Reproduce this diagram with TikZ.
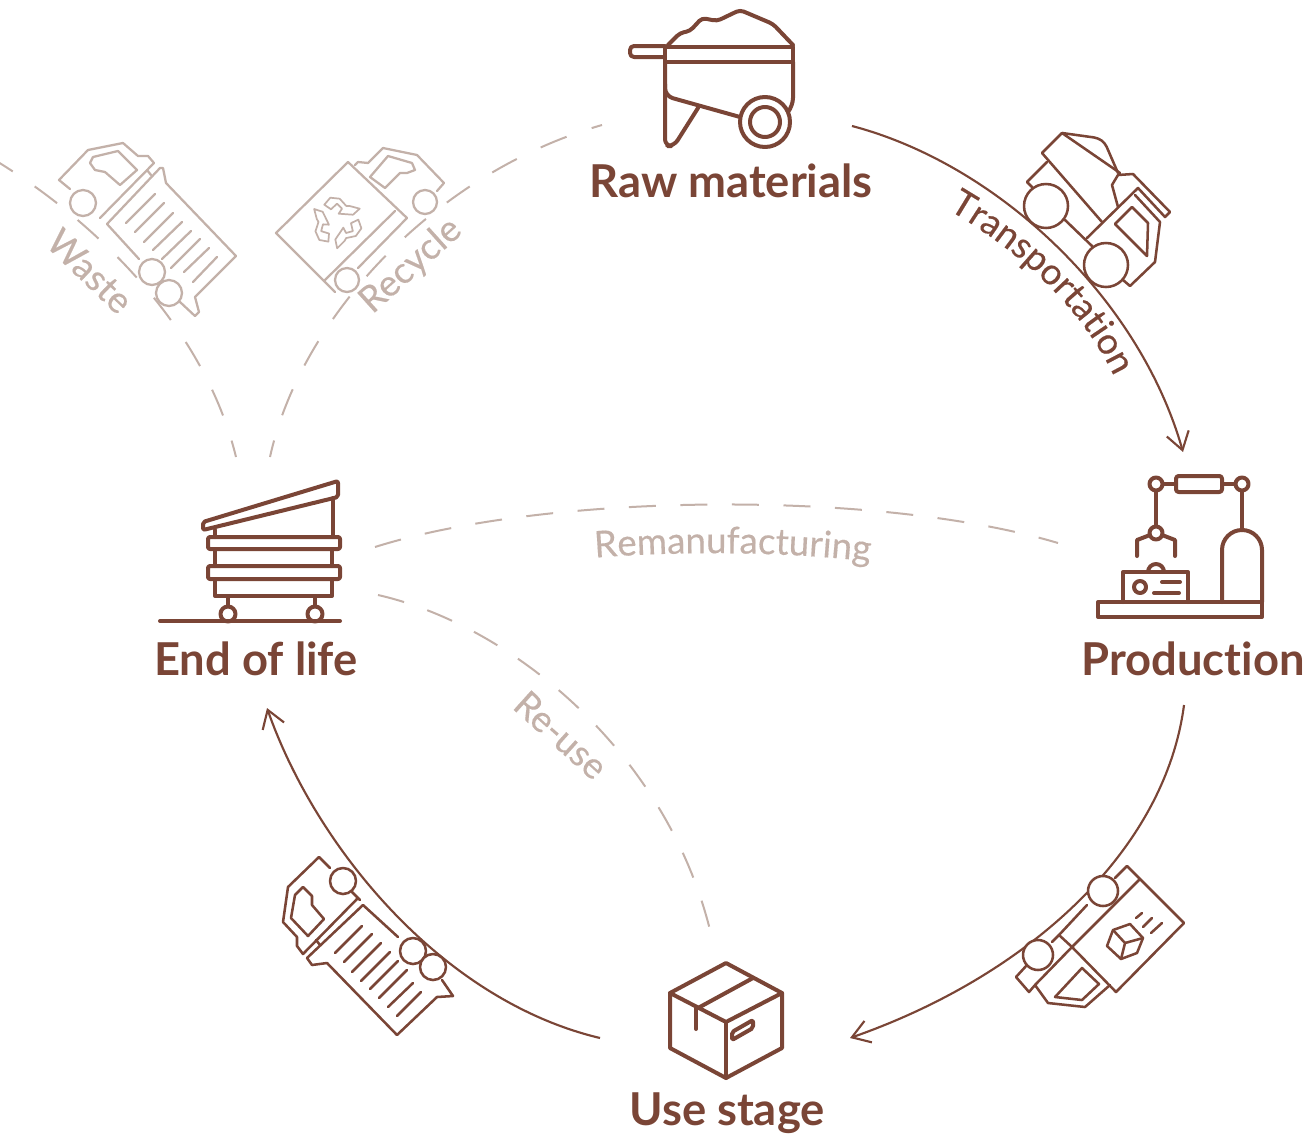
\documentclass[tikz,border=0pt]{standalone}
\usepackage{fontspec}
\setmainfont[Ligatures=NoCommon]{Lato}
\newfontfamily\palefont[Ligatures=NoCommon,FakeBold=0.3]{Lato}
\usetikzlibrary{arrows.meta,decorations.text}
\definecolor{brownc}{HTML}{7A4536}
\definecolor{lightc}{HTML}{C3B1A9}
\tikzset{
  x=0.75pt,y=-0.75pt,
  icon/.style={draw=brownc,line width=3pt,line join=round,line cap=round},
  thin icon/.style={draw=brownc,line width=1.9pt,line join=round,line cap=round},
  pale icon/.style={draw=lightc,line width=1.7pt,line join=round,line cap=round},
  flow/.style={draw=brownc,line width=1.6pt,-{Straight Barb[length=13pt,width=17pt,line width=1.6pt]}},
  dashflow/.style={draw=lightc,line width=1.5pt,dash pattern=on 21pt off 19.9pt,dash phase=8.25pt},
  dashlong/.style={draw=lightc,line width=1.5pt,dash pattern=on 20.25pt off 18.4pt},
  stage/.style={text=brownc,font=\fontsize{34}{40}\selectfont\bfseries,inner sep=0pt,anchor=center},
  palelabel/.style={text=lightc,font=\fontsize{27.5}{32}\selectfont\palefont,inner sep=0pt,anchor=center},
}
\begin{document}
\begin{tikzpicture}
\useasboundingbox (0,0) rectangle (1309,1135);
% connector ends
\coordinate (rawOut) at (852,126);
\coordinate (prodIn) at (1183,452);
\coordinate (prodOut) at (1184,705);
\coordinate (useIn) at (850,1038);
\coordinate (useOut) at (600,1038);
\coordinate (eolIn) at (267,708);
\coordinate (eolA) at (236,457);
\coordinate (wasteEnd) at (-2,162);
\coordinate (eolB) at (270,457);
\coordinate (rawIn) at (602,125);
\coordinate (eolC) at (375,547);
\coordinate (prodD) at (1058,543);
\coordinate (eolD) at (378,595);
\coordinate (useD) at (710,930);
% dashed
\draw[dashflow] (eolA) .. controls (205,330) and (100,225) .. (wasteEnd);
\draw[dashflow] (eolB) .. controls (300,320) and (432,174) .. (rawIn);
\draw[dashlong] (eolC) .. controls (550,492) and (880,490) .. (prodD);
\draw[dashlong] (eolD) .. controls (510,625) and (665,750) .. (useD);
% solid
\draw[flow] (rawOut) .. controls (1000,165) and (1140,300) .. (prodIn);
\draw[flow] (prodOut) .. controls (1165,850) and (1030,975) .. (useIn);
\draw[flow] (useOut) .. controls (440,1000) and (315,845) .. (eolIn);

% wheelbarrow
\begin{scope}[icon]
\draw[rounded corners=3pt] (668,45)--(680,33)--(690,31)--(702,18)--(717,21)--(740,10)--(773,24)--(793,45);
\draw (665,47) rectangle (793,62);
\draw[rounded corners=3pt] (665,46)--(630,46)--(630,57)--(665,57);
\draw[rounded corners=5pt] (665,62)--(665,146)--(674,146)--(698,108);
\draw[rounded corners=6pt] (665,84)--(665,96)--(740,117);
\draw[rounded corners=6pt] (793,62)--(793,106)--(788,112);
\draw (765,122) circle (25);
\draw (765,122) circle (15);
\end{scope}
\node[stage] (raw) at (731,181) {Raw materials};

% dump truck
\begin{scope}[thin icon]
\draw[fill=white] (1046,206) circle (22);
\draw[fill=white] (1106,265) circle (22);
\draw (1042,153)--(1062,133)--(1120,173);
\draw (1042,153)--(1102,222);
\draw[rounded corners=3pt] (1062,133)--(1098,138)--(1105,143)--(1118,173);
\draw (1047,162)--(1027,182)--(1032,187);
\draw (1065,220)--(1092,246);
\draw (1118,175)--(1133,174)--(1170,212)--(1165,217)--(1138,188)--(1087,238);
\draw (1118,175)--(1112,185)--(1118,207);
\draw (1135,195)--(1160,222)--(1155,262)--(1130,286)--(1123,280);
\draw (1115,224)--(1132,207)--(1148,223)--(1147,256)--cycle;
\end{scope}
\path[decorate,decoration={text along path,text align=center,text format delimiters={|}{|},
  text={|\fontsize{27.5}{32}\selectfont\palefont\color{brownc}|Transportation}}]
  (940,205) .. controls (1020,250) and (1085,310) .. (1118,385);

% production
\begin{scope}[icon]
\draw[rounded corners=2pt] (1176,476) rectangle (1222,492);
\draw (1163,484)--(1176,484) (1222,484)--(1235,484);
\draw (1156,484) circle (6.5);
\draw (1242,484) circle (6.5);
\draw (1156,491)--(1156,526);
\draw (1242,491)--(1242,530);
\draw (1156,533) circle (6.5);
\draw (1150,535)--(1137,540)--(1137,556);
\draw (1162,535)--(1175,540)--(1175,556);
\draw (1148,572) arc (180:360:8);
\draw (1123,602)--(1123,572)--(1188,572)--(1188,602);
\draw (1140,587) circle (6);
\draw (1162,582)--(1180,582) (1154,593)--(1179,593);
\draw (1098,602) rectangle (1262,617);
\draw (1222,602)--(1222,550) arc (180:360:20) --(1262,602);
\end{scope}
\node[stage] (prod) at (1193,659) {Production};

% delivery truck
\begin{scope}[thin icon]
\draw[fill=white] (1103,891) circle (15);
\draw[fill=white] (1038,955) circle (15);
\draw (1140,879)--(1184,923)--(1116,992)--(1072,947)--cycle;
\draw (1115,878)--(1127,866)--(1140,879);
\draw (1087,905)--(1059,935)--(1072,947);
\draw (1052,942)--(1059,935);
\draw (1072,947)--(1035,985)--(1048,1003)--(1085,1007)--(1110,985);
\draw (1027,965)--(1016,977)--(1029,992)--(1035,985);
\draw (1055,997)--(1082,968)--(1099,984)--(1082,1000)--cycle;
\draw (1113,930)--(1130,924)--(1143,938)--(1137,953)--(1121,959)--(1107,946)--cycle;
\draw (1113,930)--(1125,943)--(1143,938) (1125,943)--(1121,959);
\draw (1136,918)--(1142,913) (1143,927)--(1152,918) (1151,933)--(1162,923);
\end{scope}

% box
\begin{scope}[icon]
\draw (726,963)--(782,993)--(782,1048)--(726,1078)--(670,1048)--(670,993)--cycle;
\draw (670,993)--(726,1022)--(782,993);
\draw (726,1022)--(726,1078);
\draw (698,1008)--(753,978);
\draw (696,1008)--(696,1029);
\draw[rounded corners=1.5pt] (732,1032)--(753,1020)--(753,1028)--(732,1040)--cycle;
\end{scope}
\node[stage] (use) at (727,1113) {Use stage};

% rubbish truck (brown)
\begin{scope}[thin icon]
\draw[fill=white] (343,881) circle (13);
\draw[fill=white] (413,951) circle (13);
\draw[fill=white] (433,967) circle (13);
\draw (330,868)--(319,857)--(288,887)--(283,922)--(297,937)--(297,946)--(303,954)--(357,899);
\draw (316,940)--(320,945);
\draw (352,892)--(360,900);
\draw (363,905)--(307,958)--(312,965)--(327,963)--(397,1035)--(437,997)--(453,996)--(442,980);
\draw (363,905)--(398,937);
\draw (303,887)--(312,896)--(312,905)--(324,919)--(308,936)--(291,918)--(295,895)--cycle;
\draw (335,953)--(362,926) (344,962)--(372,934) (352,972)--(381,943) (361,981)--(390,952)
      (370,989)--(398,961) (379,998)--(407,970) (388,1007)--(413,983) (397,1016)--(421,992);
\end{scope}

% end of life
\begin{scope}[icon]
\draw (160,621)--(340,621);
\draw (228,614) circle (7.5);
\draw (315,614) circle (7.5);
\draw (228,597)--(228,606) (315,597)--(315,606);
\draw (215,579)--(215,596)--(332,596)--(332,579);
\draw[rounded corners=1.5pt] (208,566) rectangle (340,579);
\draw (215,549)--(215,566) (332,549)--(332,566);
\draw[rounded corners=1.5pt] (208,537) rectangle (340,549);
\draw[rounded corners=1.5pt] (203,522)--(338,481)--(338,497)--(203,530)--cycle;
\draw (215,530)--(215,537) (333,498)--(333,537);
\end{scope}
\node[stage] (eol) at (256,659) {End of life};

% waste truck
\begin{scope}[pale icon]
\draw[fill=white] (83,203) circle (13);
\draw[fill=white] (152,272) circle (13);
\draw[fill=white] (169,293) circle (13);
\draw (70,189)--(59,180)--(88,150)--(123,143)--(138,156)--(148,156)--(154,163)--(100,218);
\draw (147,170)--(151,175);
\draw (107,224)--(160,168)--(163,168)--(166,183)--(236,256)--(195,297)--(199,312)--(195,316)--(180,302);
\draw (107,224)--(139,259);
\draw (90,163)--(93,157)--(118,151)--(137,170)--(120,185)--(105,172)--(95,170)--cycle;
\draw (126,223)--(155,194) (135,232)--(164,203) (144,242)--(173,213) (153,250)--(182,222)
      (162,259)--(191,231) (171,268)--(200,239) (184,272)--(209,248) (193,282)--(217,257);
\end{scope}
\node[palelabel,rotate=-44] (waste) at (90,271) {Waste};

% recycle truck
\begin{scope}[pale icon]
\draw[fill=white] (347,280) circle (12);
\draw[fill=white] (425,202) circle (12);
\draw (348,162)--(276,233)--(335,292)--(327,284);
\draw (348,162)--(407,218);
\draw (325,280)--(395,211);
\draw (358,268)--(407,218);
\draw (355,165)--(358,162)--(368,163)--(383,148)--(417,155)--(444,183)--(437,191);
\draw (370,177)--(388,156)--(412,163)--(415,170)--(407,173)--(400,173)--(385,188)--cycle;
\foreach \a in {0,120,240}{
  \draw[line width=1.3pt,shift={(337,222)},rotate=\a]
    (-12.7,-17.3)--(-6.7,-24.3)--(2.7,-23.3)--(9.3,-16)--(12.7,-16)--(22.7,-13.3)--(16,-7.3)--(1.7,-8.3)--(5,-13.3)--(0,-18.3)--(-6,-12.7)--cycle;
}
\end{scope}
\node[palelabel,rotate=42] (recycle) at (411,266) {Recycle};

% pale labels
\path[decorate,decoration={text along path,text align=center,text format delimiters={|}{|},
  text={|\fontsize{27.5}{32}\selectfont\palefont\color{lightc}|Remanufacturing}}]
  (590,558) .. controls (680,551) and (780,551) .. (875,562);
\node[palelabel,rotate=-42] (reuse) at (561,735) {Re-use};
\end{tikzpicture}
\end{document}
